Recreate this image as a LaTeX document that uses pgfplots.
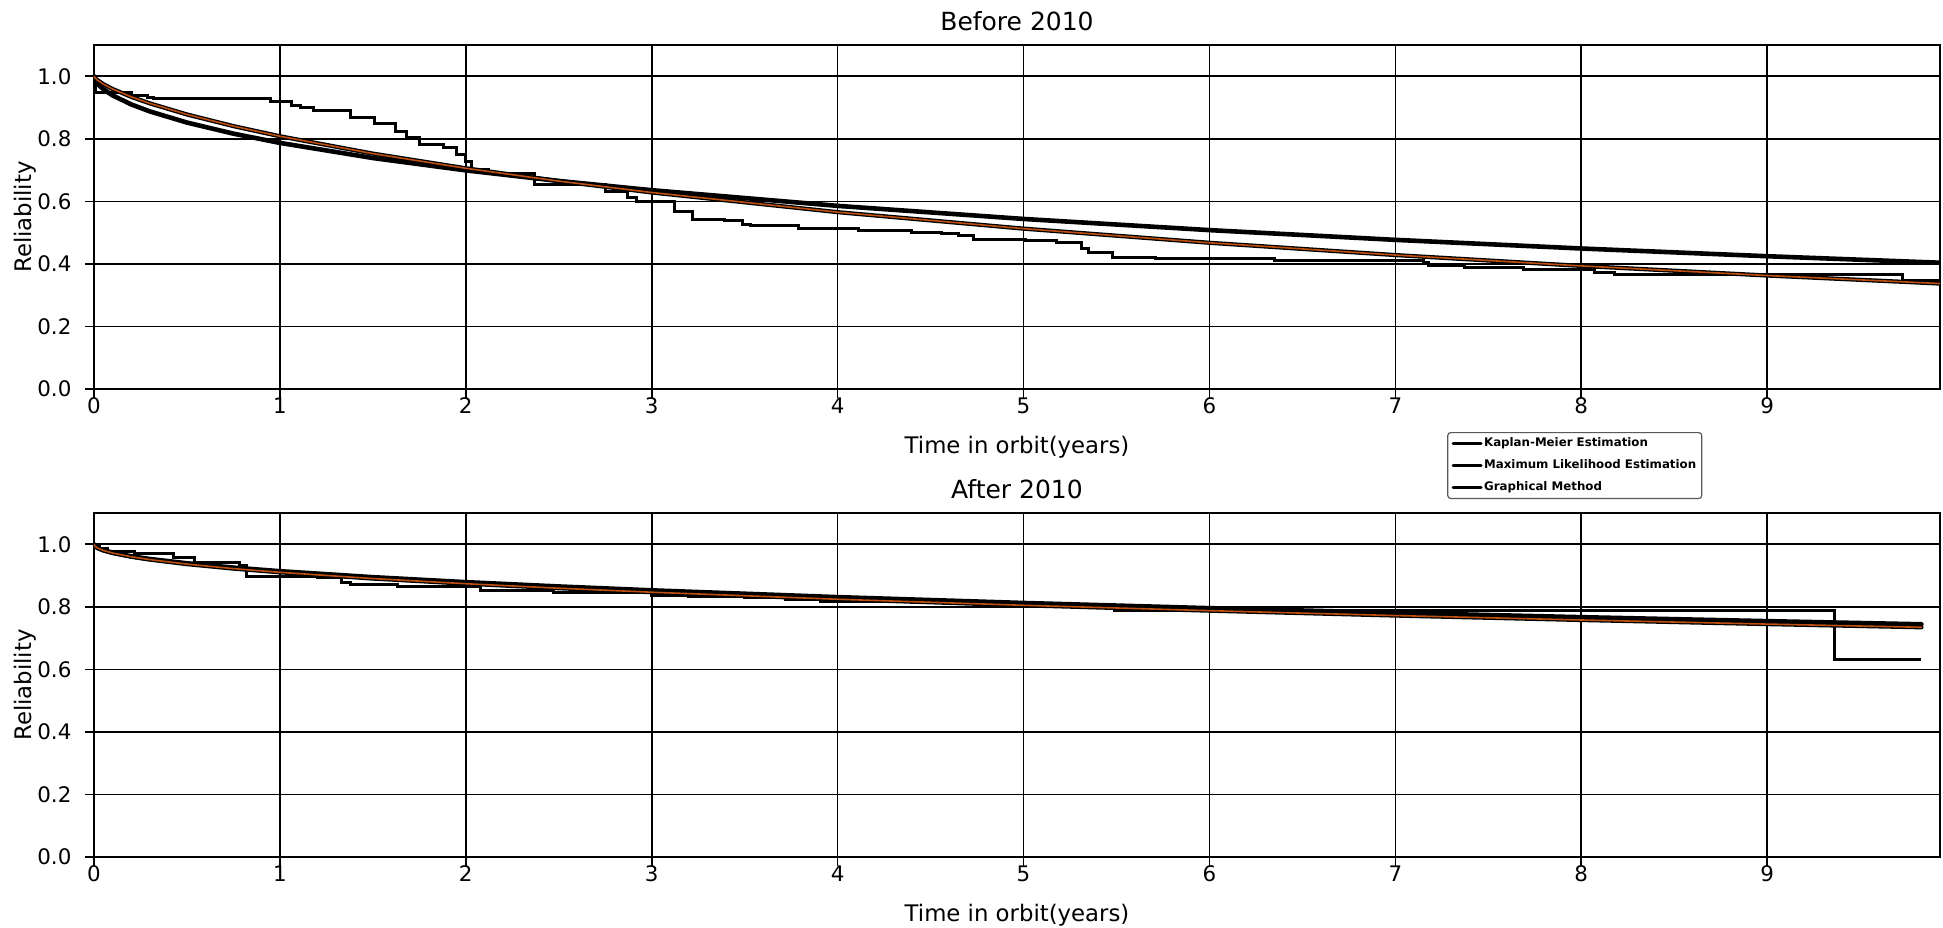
\documentclass[border=0pt]{standalone}
\usepackage{fontspec}
\setmainfont{DejaVu Sans}
\usepackage{pgfplots}
\pgfplotsset{compat=1.18}
\definecolor{gorange}{RGB}{190,80,15}

\pgfplotsset{
  relplot/.style={
    scale only axis, width=923pt, height=172pt,
    xmin=0, xmax=9.93, ymin=0, ymax=1.1,
    xtick={0,1,...,9}, ytick={0,0.2,0.4,0.6,0.8,1.0},
    grid=major, major grid style={black, line width=0.8pt},
    axis line style={black, line width=0.8pt},
    tick align=outside, tick pos=left,
    major tick length=4.5pt, tick style={black, line width=0.8pt},
    /pgf/number format/assume math mode=true,
    ticklabel style={font=\fontsize{10.7}{12}\selectfont},
    yticklabel style={/pgf/number format/fixed,/pgf/number format/fixed zerofill,/pgf/number format/precision=1, anchor=east, inner sep=0pt, xshift=-6.6pt},
    xticklabel style={anchor=base, inner sep=0pt, yshift=-7.8pt},
    xlabel={Time in orbit(years)}, ylabel={Reliability},
    label style={font=\fontsize{11.4}{13}\selectfont},
    xlabel style={at={([yshift=-32.2pt]axis description cs:0.5,0)}, anchor=base},
    ylabel style={at={([xshift=-31pt]axis description cs:0,0.5)}, anchor=base},
    title style={at={([yshift=1.5pt]axis description cs:0.5,1)}, anchor=base, font=\fontsize{12.5}{14}\selectfont},
    every axis plot/.append style={line cap=round, line join=round},
  },
  kmstyle/.style={black, line width=1.5pt, const plot, forget plot, line join=miter, line cap=butt},
  mlestyle/.style={black, line width=2.3pt, forget plot},
  gmunder/.style={black, line width=2.1pt, forget plot},
  gmover/.style={gorange, line width=0.8pt, forget plot},
}

\pgfplotstableread{
x y
0 1.0
0.01 0.947
0.2 0.938
0.29 0.933
0.32 0.929
0.95 0.92
1.06 0.907
1.11 0.899
1.18 0.891
1.38 0.869
1.51 0.848
1.62 0.824
1.68 0.803
1.75 0.781
1.88 0.773
1.95 0.751
2.0 0.728
2.03 0.701
2.12 0.688
2.37 0.653
2.75 0.632
2.87 0.611
2.92 0.600
3.12 0.568
3.22 0.543
3.39 0.538
3.49 0.527
3.53 0.523
3.79 0.512
4.11 0.507
4.40 0.502
4.56 0.498
4.65 0.491
4.73 0.479
5.01 0.474
5.18 0.467
5.31 0.450
5.35 0.435
5.48 0.421
5.71 0.417
6.35 0.411
7.15 0.403
7.18 0.395
7.37 0.389
7.69 0.381
8.07 0.373
8.18 0.365
9.73 0.346
9.93 0.346
}\kmA

\pgfplotstableread{
x y
0 1.0
0.005 0.989
0.02 0.9755
0.05 0.9587
0.1 0.9389
0.2 0.9101
0.3 0.8877
0.5 0.852
0.75 0.8165
1 0.787
1.5 0.7386
2 0.6991
2.5 0.6653
3 0.6357
4 0.5856
5 0.5438
6 0.5081
7 0.4769
8 0.4493
9 0.4246
9.93 0.4038
}\mleA

\pgfplotstableread{
x y
0 1.0
0.005 0.9951
0.02 0.9868
0.05 0.9749
0.1 0.9593
0.2 0.9343
0.3 0.9134
0.5 0.8779
0.75 0.8406
1 0.8082
1.5 0.7527
2 0.7058
2.5 0.6648
3 0.6284
4 0.5655
5 0.5128
6 0.4676
7 0.4283
8 0.3936
9 0.3629
9.93 0.3372
}\gmA

\pgfplotstableread{
x y
0 1.0
0.03 0.985
0.07 0.978
0.22 0.971
0.43 0.957
0.54 0.942
0.78 0.932
0.82 0.897
1.20 0.893
1.33 0.877
1.38 0.872
1.63 0.864
2.08 0.853
2.47 0.845
3.00 0.836
3.20 0.833
3.50 0.829
3.72 0.822
3.91 0.817
4.40 0.814
4.95 0.808
5.49 0.788
9.36 0.632
9.83 0.632
}\kmB

\pgfplotstableread{
x y
0 1.0
0.005 0.9943
0.02 0.9883
0.05 0.9812
0.1 0.9732
0.2 0.9618
0.3 0.953
0.5 0.9392
0.75 0.9254
1 0.9139
1.5 0.8948
2 0.8789
2.5 0.8651
3 0.8527
4 0.831
5 0.8123
6 0.7957
7 0.7807
8 0.7669
9 0.7542
9.83 0.7442
}\mleB

\pgfplotstableread{
x y
0 1.0
0.005 0.994
0.02 0.9878
0.05 0.9804
0.1 0.972
0.2 0.9601
0.3 0.951
0.5 0.9365
0.75 0.9222
1 0.9103
1.5 0.8904
2 0.8739
2.5 0.8595
3 0.8467
4 0.8242
5 0.8049
6 0.7877
7 0.7721
8 0.7579
9 0.7448
9.83 0.7346
}\gmB

\begin{document}
\begin{tikzpicture}
\useasboundingbox (-47pt,-269pt) rectangle (924.5pt,194.5pt);
\begin{axis}[relplot, title={Before 2010},
  legend style={at={(0.733,-0.125)}, anchor=north west, draw=black!65, line width=0.6pt,
    rounded corners=1.5pt, font=\fontsize{5.9}{6.5}\selectfont\bfseries,
    inner xsep=2pt, inner ysep=1.8pt, row sep=3.3pt,
    nodes={inner sep=0.8pt}},
  legend cell align=left,
  legend image code/.code={\draw[#1] (0pt,0pt) -- (14pt,0pt);},
]
\addplot[kmstyle] table {\kmA};
\addplot[mlestyle] table {\mleA};
\addplot[gmunder] table {\gmA};
\addplot[gmover] table {\gmA};
\addlegendimage{black, line width=1.4pt}
\addlegendentry{Kaplan-Meier Estimation}
\addlegendimage{black, line width=1.4pt}
\addlegendentry{Maximum Likelihood Estimation}
\addlegendimage{black, line width=1.4pt}
\addlegendentry{Graphical Method}
\end{axis}
\begin{axis}[relplot, title={After 2010}, at={(0pt,-62pt)}, anchor=north west]
\addplot[kmstyle] table {\kmB};
\addplot[mlestyle] table {\mleB};
\addplot[gmunder] table {\gmB};
\addplot[gmover] table {\gmB};
\end{axis}
\end{tikzpicture}
\end{document}
